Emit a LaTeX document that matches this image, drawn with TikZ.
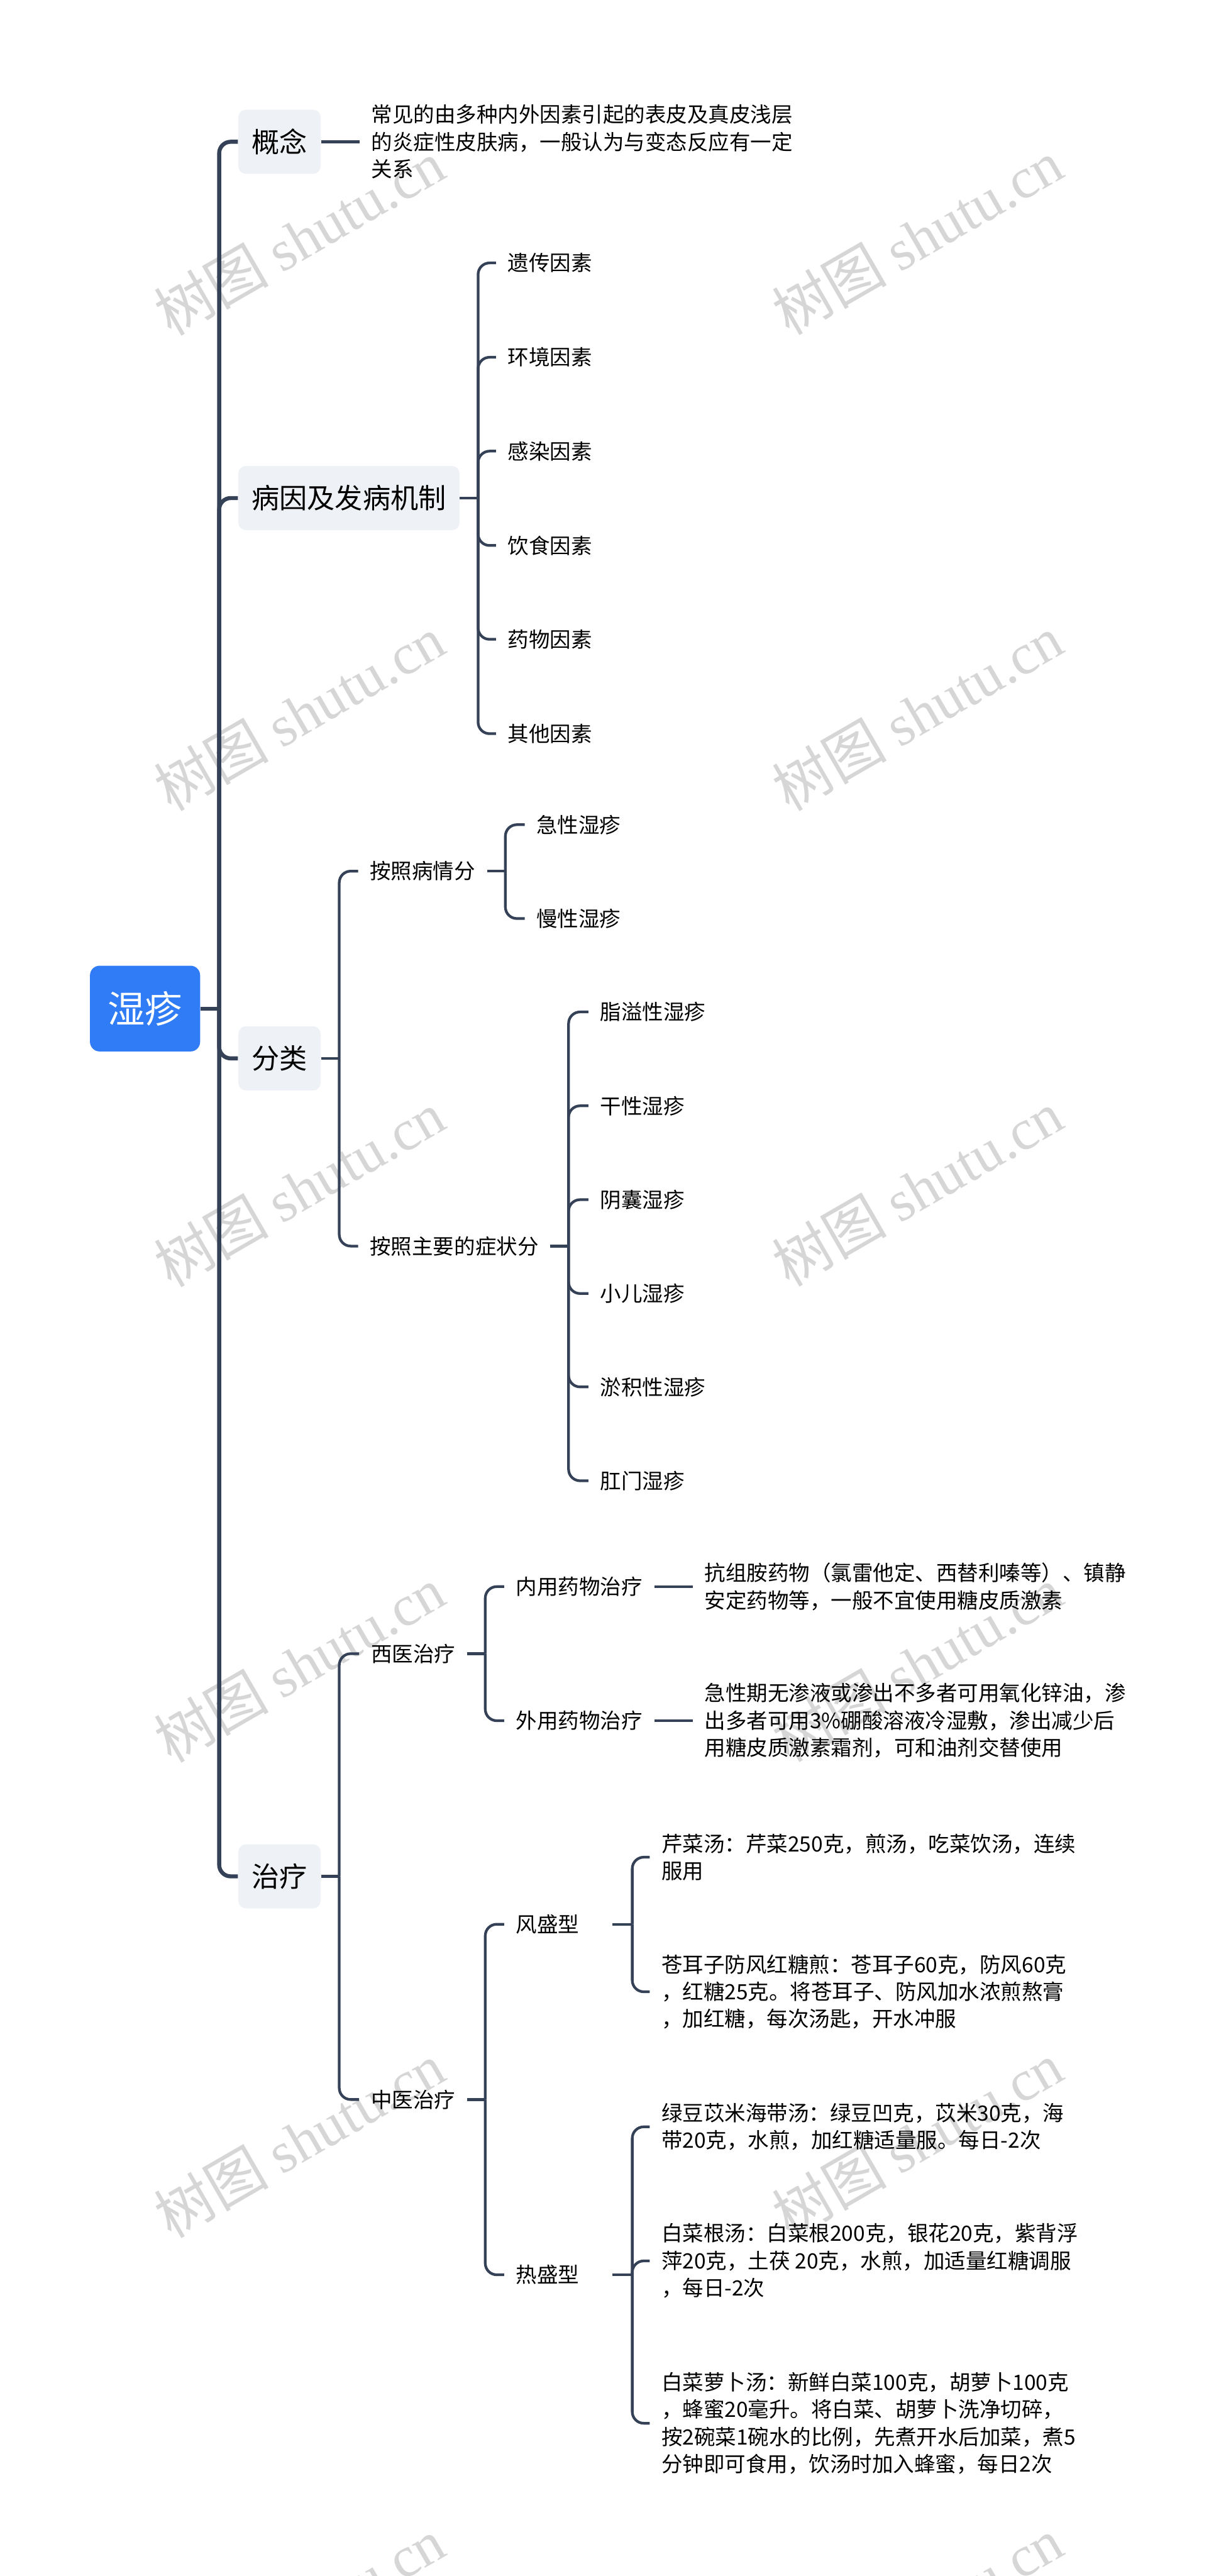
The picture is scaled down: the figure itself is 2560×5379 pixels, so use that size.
\documentclass[tikz,border=0pt]{standalone}
\usepackage{fontspec}
\setmainfont{Noto Sans CJK SC}
\newfontfamily\wmlatin{Liberation Serif}
\newfontfamily\wmcjk{Noto Sans CJK SC}
\definecolor{linecol}{RGB}{52,65,86}
\definecolor{topicfill}{RGB}{238,241,245}
\definecolor{rootblue}{RGB}{47,124,246}
\definecolor{wmgray}{RGB}{214,214,214}
\begin{document}
\begin{tikzpicture}[x=0.25pt,y=-0.25pt,
  trunkline/.style={draw=linecol,line width=2.1pt,rounded corners=6pt},
  conn/.style={draw=linecol,line width=1.4pt,rounded corners=6pt},
  rootbox/.style={fill=rootblue,rounded corners=5pt,minimum width=57.5pt,minimum height=44.75pt,inner sep=0pt,text=white,font=\fontsize{19.5pt}{23pt}\selectfont},
  topic/.style={fill=topicfill,rounded corners=4pt,inner xsep=7pt,inner ysep=0pt,minimum height=33.5pt,text=black,font=\fontsize{14.5pt}{17pt}\selectfont,anchor=west},
  subnode/.style={inner xsep=6pt,inner ysep=1pt,text=black,font=\fontsize{11pt}{14.25pt}\selectfont,anchor=west,align=left},
  subwide/.style={subnode,text width=44.25pt},
  wmark/.style={text=wmgray,rotate=30,anchor=base,inner sep=0pt,font=\fontsize{30pt}{30pt}\selectfont}
]
\useasboundingbox (0,0) rectangle (2560,5379);
\fill[white] (0,0) rectangle (2560,5379);

% watermarks
\begin{scope}
\clip (0,0) rectangle (2560,5379);
\foreach \r in {0,...,5}{
  \node[wmark] (wl\r) at (648,536+993*\r) {\wmcjk 树图 \wmlatin shutu.cn};
  \node[wmark] (wr\r) at (1939,535+993*\r) {\wmcjk 树图 \wmlatin shutu.cn};
}
\end{scope}

% root
\node[rootbox] (root) at (303,2106) {湿疹};

% level 1
\node[topic] (gn) at (497,296) {概念};
\node[topic] (by) at (497,1040) {病因及发病机制};
\node[topic] (fl) at (497,2210) {分类};
\node[topic] (zl) at (497,3918) {治疗};

% 概念
\node[subnode] (gnl) at (751,296) {常见的由多种内外因素引起的表皮及真皮浅层\\的炎症性皮肤病，一般认为与变态反应有一定\\关系};

% 病因
\node[subnode] (by1) at (1036,549) {遗传因素};
\node[subnode] (by2) at (1036,746) {环境因素};
\node[subnode] (by3) at (1036,942) {感染因素};
\node[subnode] (by4) at (1036,1139) {饮食因素};
\node[subnode] (by5) at (1036,1335) {药物因素};
\node[subnode] (by6) at (1036,1532) {其他因素};

% 分类
\node[subnode] (fa) at (748,1819) {按照病情分};
\node[subnode] (fa1) at (1096,1722) {急性湿疹};
\node[subnode] (fa2) at (1096,1918) {慢性湿疹};
\node[subnode] (fb) at (748,2602) {按照主要的症状分};
\node[subnode] (fb1) at (1229,2113) {脂溢性湿疹};
\node[subnode] (fb2) at (1229,2309) {干性湿疹};
\node[subnode] (fb3) at (1229,2505) {阴囊湿疹};
\node[subnode] (fb4) at (1229,2701) {小儿湿疹};
\node[subnode] (fb5) at (1229,2896) {淤积性湿疹};
\node[subnode] (fb6) at (1229,3092) {肛门湿疹};

% 治疗
\node[subnode] (xy) at (750,3453) {西医治疗};
\node[subnode] (ny) at (1053,3313) {内用药物治疗};
\node[subnode] (nyl) at (1447,3313) {抗组胺药物（氯雷他定、西替利嗪等）、镇静\\安定药物等，一般不宜使用糖皮质激素};
\node[subnode] (wy) at (1053,3593) {外用药物治疗};
\node[subnode] (wyl) at (1447,3593) {急性期无渗液或渗出不多者可用氧化锌油，渗\\出多者可用3\%硼酸溶液冷湿敷，渗出减少后\\用糖皮质激素霜剂，可和油剂交替使用};
\node[subnode] (zy) at (750,4384) {中医治疗};
\node[subwide] (fs) at (1053,4018) {风盛型};
\node[subnode] (fs1) at (1357,3878) {芹菜汤：芹菜250克，煎汤，吃菜饮汤，连续\\服用};
\node[subnode] (fs2) at (1357,4159) {苍耳子防风红糖煎：苍耳子60克，防风60克\\，红糖25克。将苍耳子、防风加水浓煎熬膏\\，加红糖，每次汤匙，开水冲服};
\node[subwide] (rs) at (1053,4750) {热盛型};
\node[subnode] (rs1) at (1357,4441) {绿豆苡米海带汤：绿豆凹克，苡米30克，海\\带20克，水煎，加红糖适量服。每日-2次};
\node[subnode] (rs2) at (1357,4721) {白菜根汤：白菜根200克，银花20克，紫背浮\\萍20克，土茯 20克，水煎，加适量红糖调服\\，每日-2次};
\node[subnode] (rs3) at (1357,5060) {白菜萝卜汤：新鲜白菜100克，胡萝卜100克\\，蜂蜜20毫升。将白菜、胡萝卜洗净切碎，\\按2碗菜1碗水的比例，先煮开水后加菜，煮5\\分钟即可食用，饮汤时加入蜂蜜，每日2次};

% connectors: trunk
\draw[trunkline] (root.east) -- ++(39,0) coordinate (jt);
\foreach \c in {gn,by,fl,zl} \draw[trunkline] (jt) |- (\c.west);

% 概念
\draw[conn] (gn.east) -- (gn.east -| gnl.west);

% 病因
\draw[conn] (by.east) -- ++(38,0) coordinate (jby);
\foreach \c in {by1,by2,by3,by4,by5,by6} \draw[conn] (jby) |- (\c.west);

% 分类
\draw[conn] (fl.east) -- ++(38,0) coordinate (jfl);
\foreach \c in {fa,fb} \draw[conn] (jfl) |- (\c.west);
\draw[conn] (fa.east) -- ++(38,0) coordinate (jfa);
\foreach \c in {fa1,fa2} \draw[conn] (jfa) |- (\c.west);
\draw[conn] (fb.east) -- ++(38,0) coordinate (jfb);
\foreach \c in {fb1,fb2,fb3,fb4,fb5,fb6} \draw[conn] (jfb) |- (\c.west);

% 治疗
\draw[conn] (zl.east) -- ++(38,0) coordinate (jzl);
\foreach \c in {xy,zy} \draw[conn] (jzl) |- (\c.west);
\draw[conn] (xy.east) -- ++(38,0) coordinate (jxy);
\foreach \c in {ny,wy} \draw[conn] (jxy) |- (\c.west);
\draw[conn] (ny.east) -- (ny.east -| nyl.west);
\draw[conn] (wy.east) -- (wy.east -| wyl.west);
\draw[conn] (zy.east) -- ++(38,0) coordinate (jzy);
\foreach \c in {fs,rs} \draw[conn] (jzy) |- (\c.west);
\draw[conn] (fs.east) -- ++(41,0) coordinate (jfs);
\foreach \c in {fs1,fs2} \draw[conn] (jfs) |- (\c.west);
\draw[conn] (rs.east) -- ++(41,0) coordinate (jrs);
\foreach \c in {rs1,rs2,rs3} \draw[conn] (jrs) |- (\c.west);
\end{tikzpicture}
\end{document}
